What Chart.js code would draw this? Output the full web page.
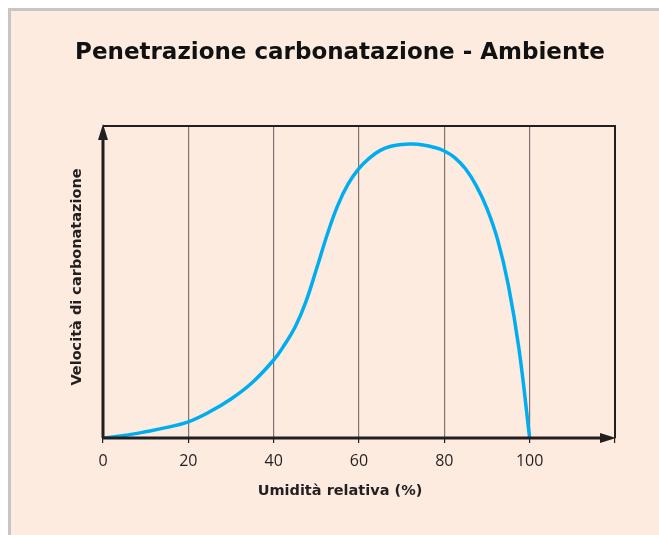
<!DOCTYPE html>
<html>
<head>
<meta charset="utf-8">
<script src="https://cdn.jsdelivr.net/npm/chart.js@4"></script>
<style>
  body { margin: 0; background: #fff; }
  #box {
    position: absolute; left: 8px; top: 8px;
    width: 648px; height: 524px;
    border-left: 3px solid #c6c6c6; border-top: 3px solid #c6c6c6;
    background: #fdebe0;
  }
  canvas { display: block; }
</style>
</head>
<body>
<div id="box"><canvas id="grafico" width="648" height="524"></canvas></div>
<script>
// umidita relativa (%) e velocita di carbonatazione (scala relativa 0-100)
var umidita  = [0, 5, 10, 15, 20, 25, 30, 35, 40, 42.5, 45, 47.5, 50, 52.5, 55, 57.5, 60, 62.5, 65, 67.5, 70,
                72.5, 75, 77.5, 80, 82.5, 85, 87.5, 90, 92.5, 95, 97.5, 100];
var velocita = [0, 0.8, 2.0, 3.4, 5.2, 8.4, 12.5, 17.8, 25.0, 29.8, 35.5, 43.5, 54, 65, 74.5, 81.5, 86.4, 89.8, 92.2, 93.5, 94.1,
                94.2, 93.9, 93.2, 92, 89.8, 86.2, 80.8, 73.5, 63.5, 49, 28.5, 0];
var tickLabels = [0, 20, 40, 60, 80, 100];

var titolo = 'Penetrazione carbonatazione - Ambiente';
var titoloX = 'Umidità relativa (%)';
var titoloY = 'Velocità di carbonatazione';

var punti = umidita.map(function(u, i){ return {x: u, y: velocita[i]}; });
var scuro = '#231f20';

// assi con frecce, bordo e testi
var assiPlugin = {
  id: 'assi',
  afterDraw: function(chart){
    var ctx = chart.ctx, a = chart.chartArea;
    ctx.save();
    ctx.strokeStyle = scuro;
    ctx.fillStyle = scuro;
    // bordo sopra e a destra
    ctx.lineWidth = 2;
    ctx.beginPath();
    ctx.moveTo(a.left, a.top);
    ctx.lineTo(a.right, a.top);
    ctx.lineTo(a.right, a.bottom);
    ctx.stroke();
    // assi
    ctx.lineWidth = 3;
    ctx.beginPath();
    ctx.moveTo(a.left, a.bottom);
    ctx.lineTo(a.left, a.top + 10);
    ctx.moveTo(a.left, a.bottom);
    ctx.lineTo(a.right - 10, a.bottom);
    ctx.stroke();
    // frecce
    ctx.beginPath();
    ctx.moveTo(a.left, a.top - 2);
    ctx.lineTo(a.left - 5, a.top + 14);
    ctx.lineTo(a.left + 5, a.top + 14);
    ctx.closePath();
    ctx.fill();
    ctx.beginPath();
    ctx.moveTo(a.right + 1, a.bottom);
    ctx.lineTo(a.right - 15, a.bottom - 5);
    ctx.lineTo(a.right - 15, a.bottom + 5);
    ctx.closePath();
    ctx.fill();
    // titoli
    ctx.textAlign = 'center';
    ctx.textBaseline = 'alphabetic';
    ctx.fillStyle = '#111';
    ctx.font = 'bold 23px "DejaVu Sans"';
    ctx.fillText(titolo, 329, 48);
    ctx.fillStyle = scuro;
    ctx.textBaseline = 'middle';
    ctx.font = 'bold 14.5px "DejaVu Sans"';
    ctx.fillText(titoloX, 329, 480);
    ctx.translate(66, 266);
    ctx.rotate(-Math.PI / 2);
    ctx.fillText(titoloY, 0, 0);
    ctx.restore();
  }
};

new Chart(document.getElementById('grafico'), {
  type: 'line',
  data: {
    datasets: [{
      data: punti,
      borderColor: '#00aeef',
      borderWidth: 3.5,
      pointRadius: 0,
      tension: 0.4,
      fill: false
    }]
  },
  options: {
    responsive: false,
    animation: false,
    layout: { padding: { left: 92, top: 115, right: 44, bottom: 0 } },
    plugins: { legend: { display: false }, tooltip: { enabled: false } },
    scales: {
      x: {
        type: 'linear',
        min: 0, max: 120,
        afterFit: function(s){ s.height = 97; },
        afterBuildTicks: function(s){
          s.ticks = [0, 20, 40, 60, 80, 100, 120].map(function(v){ return {value: v}; });
        },
        ticks: {
          color: scuro,
          font: { family: 'Open Sans', size: 16 },
          padding: 9,
          maxRotation: 0,
          callback: function(v){ return tickLabels.indexOf(v) >= 0 ? String(v) : ''; }
        },
        grid: {
          color: function(c){
            var v = c.tick ? c.tick.value : 0;
            return (v > 0 && v < 120) ? '#7d7370' : 'rgba(0,0,0,0)';
          },
          lineWidth: 1.2,
          tickLength: 5,
          tickColor: scuro
        },
        border: { display: false }
      },
      y: {
        display: false,
        min: 0, max: 100
      }
    }
  },
  plugins: [assiPlugin]
});
</script>
</body>
</html>
